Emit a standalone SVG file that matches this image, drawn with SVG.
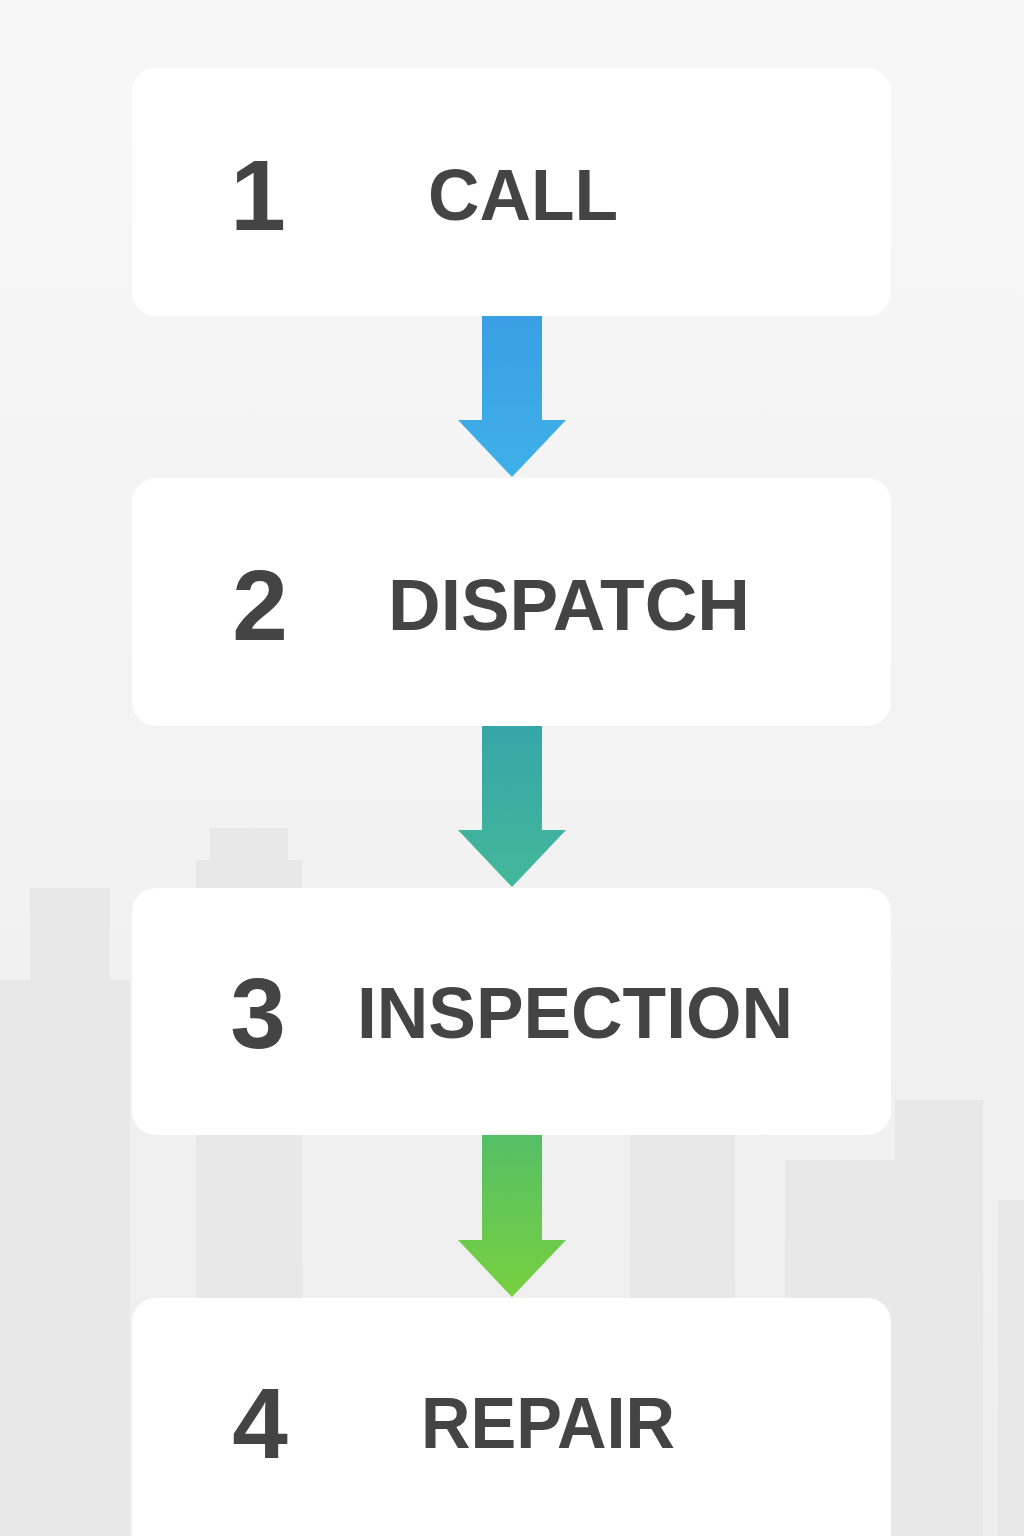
<svg xmlns="http://www.w3.org/2000/svg" width="1024" height="1536" viewBox="0 0 1024 1536">
<style>
.box{fill:#fff}
.num{font-family:"Liberation Sans",Arial,sans-serif;font-weight:bold;font-size:100px;fill:#444}
.lbl{font-family:"Liberation Sans",Arial,sans-serif;font-weight:bold;font-size:72px;fill:#444}
.bld{fill:#e8e8e8}
</style>
<defs>
<linearGradient id="bg" x1="0" y1="0" x2="0" y2="1"><stop offset="0" stop-color="#f7f7f7"/><stop offset="1" stop-color="#eeeeee"/></linearGradient>
<linearGradient id="a1" x1="0" y1="0" x2="0" y2="1"><stop offset="0" stop-color="#3a9fe4"/><stop offset="1" stop-color="#3fb0e8"/></linearGradient>
<linearGradient id="a2" x1="0" y1="0" x2="0" y2="1"><stop offset="0" stop-color="#36a6a8"/><stop offset="1" stop-color="#44b89a"/></linearGradient>
<linearGradient id="a3" x1="0" y1="0" x2="0" y2="1"><stop offset="0" stop-color="#55bf66"/><stop offset="1" stop-color="#78d040"/></linearGradient>
</defs>
<rect width="1024" height="1536" fill="url(#bg)"/>
<g id="skyline">
<rect class="bld" x="210" y="828" width="78" height="60"/>
<rect class="bld" x="196" y="860" width="106" height="676"/>
<rect class="bld" x="30" y="888" width="80" height="648"/>
<rect class="bld" x="0" y="980" width="130" height="556"/>
<rect class="bld" x="630" y="1130" width="105" height="406"/>
<rect class="bld" x="785" y="1160" width="110" height="376"/>
<rect class="bld" x="895" y="1100" width="88" height="436"/>
<rect class="bld" x="998" y="1200" width="26" height="336"/>
</g>
<g id="node1"><rect class="box" x="132" y="68" width="759" height="248" rx="24"/><text class="num" x="258" y="230" text-anchor="middle">1</text><text class="lbl" x="428" y="220" textLength="190" lengthAdjust="spacingAndGlyphs">CALL</text></g>
<g id="node2"><rect class="box" x="132" y="478" width="759" height="248" rx="24"/><text class="num" x="260" y="640" text-anchor="middle">2</text><text class="lbl" x="388" y="630" textLength="362" lengthAdjust="spacingAndGlyphs">DISPATCH</text></g>
<g id="node3"><rect class="box" x="132" y="888" width="759" height="247" rx="24"/><text class="num" x="258" y="1048" text-anchor="middle">3</text><text class="lbl" x="357" y="1038" textLength="436" lengthAdjust="spacingAndGlyphs">INSPECTION</text></g>
<g id="node4"><rect class="box" x="132" y="1298" width="759" height="260" rx="24"/><text class="num" x="260" y="1458" text-anchor="middle">4</text><text class="lbl" x="421" y="1448" textLength="254" lengthAdjust="spacingAndGlyphs">REPAIR</text></g>
<g id="connectors">
<path d="M482 316H542V420H566L512 477L458 420H482Z" fill="url(#a1)"/>
<path d="M482 726H542V830H566L512 887L458 830H482Z" fill="url(#a2)"/>
<path d="M482 1135H542V1240H566L512 1297L458 1240H482Z" fill="url(#a3)"/>
</g>
</svg>
